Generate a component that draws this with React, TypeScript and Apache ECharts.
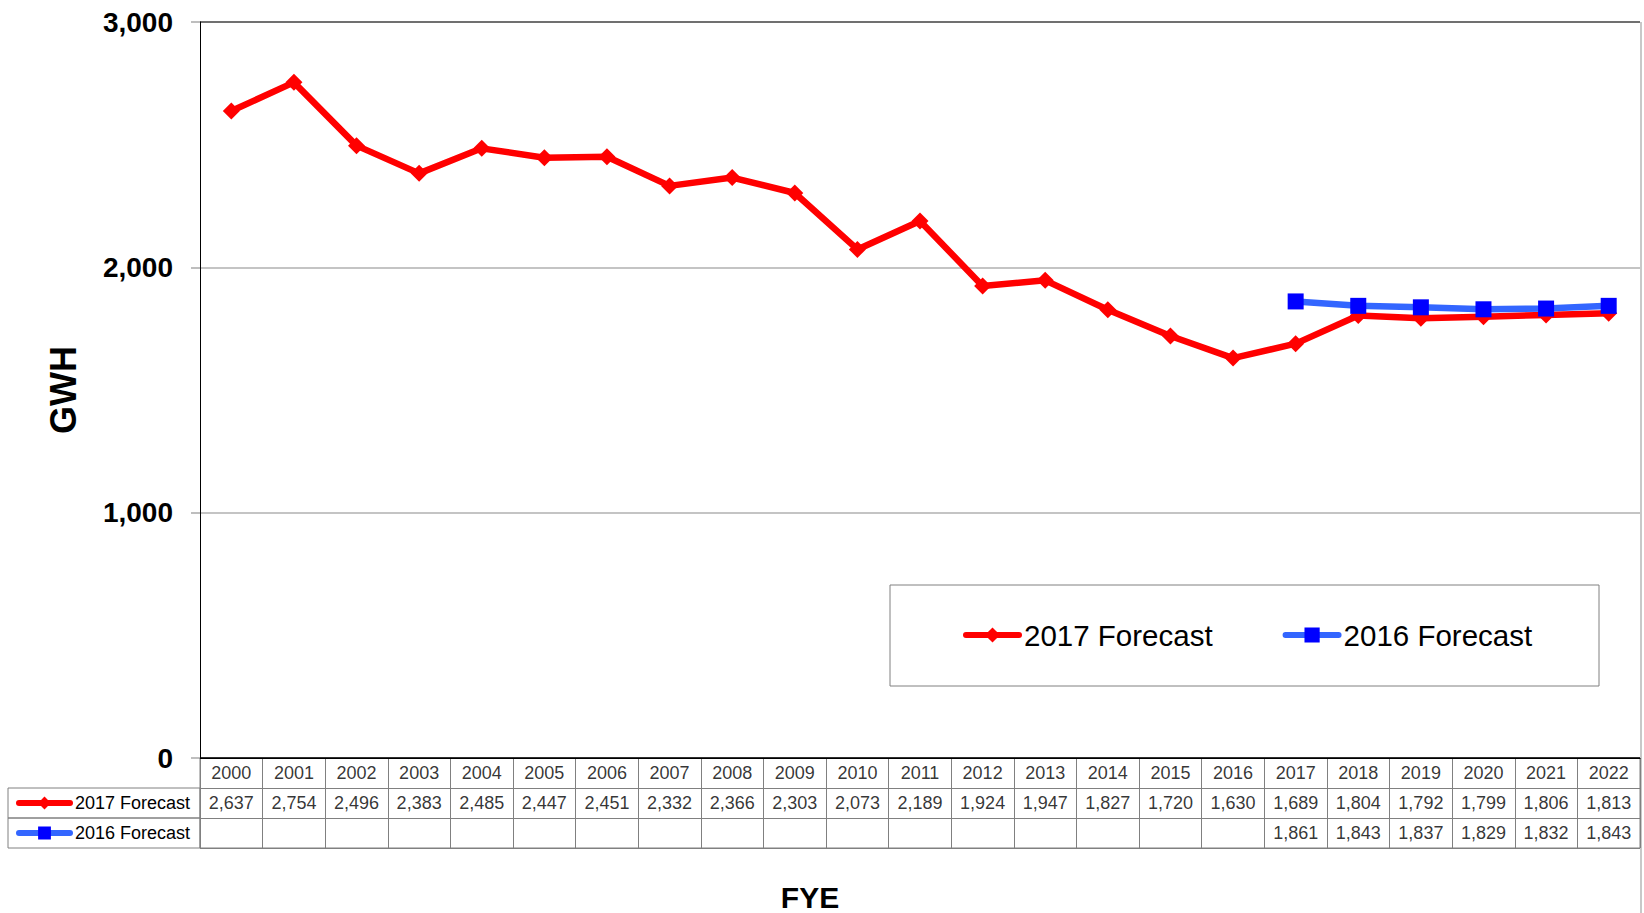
import React, { useEffect, useRef } from "react";
import * as echarts from "echarts";

const years = ["2000","2001","2002","2003","2004","2005","2006","2007","2008","2009","2010","2011","2012","2013","2014","2015","2016","2017","2018","2019","2020","2021","2022"];
const forecast2017 = [2637,2754,2496,2383,2485,2447,2451,2332,2366,2303,2073,2189,1924,1947,1827,1720,1630,1689,1804,1792,1799,1806,1813];
const forecast2016: (number | null)[] = [null,null,null,null,null,null,null,null,null,null,null,null,null,null,null,null,null,1861,1843,1837,1829,1832,1843];
const seriesNames = ["2017 Forecast", "2016 Forecast"];
const tableRows = ["FYE", "2017 Forecast", "2016 Forecast"];
const yTicks = { min: 0, max: 3000, interval: 1000 };

const FONT = 'Arial, "Liberation Sans", sans-serif';
const fmt = (v: number) => v.toLocaleString("en-US");

export default function App() {
  const ref = useRef<HTMLDivElement>(null);
  useEffect(() => {
    if (!ref.current) return;
    const chart = echarts.init(ref.current, undefined, { renderer: "svg" });

    const tableData: any[] = [];
    years.forEach((y, i) => {
      tableData.push({ value: [i, 0], name: y });
      tableData.push({ value: [i, 1], name: fmt(forecast2017[i]) });
      const b = forecast2016[i];
      if (b != null) tableData.push({ value: [i, 2], name: fmt(b) });
    });

    chart.setOption({
      animation: false,
      textStyle: { fontFamily: FONT },
      grid: [
        { left: 200, right: 4, top: 22, bottom: 155, show: false },
        { left: 200, right: 4, top: 758, height: 90, show: true, borderColor: "#808080", borderWidth: 1 },
      ],
      legend: [
        {
          data: seriesNames,
          left: 963,
          top: 620,
          padding: 0,
          itemWidth: 53,
          itemHeight: 19,
          itemGap: 70,
          lineStyle: { width: 6, cap: "round" },
          textStyle: { fontSize: 29.5, color: "#000", fontFamily: FONT },
          selectedMode: false,
        },
        {
          data: seriesNames,
          orient: "vertical",
          left: 16,
          top: 794,
          padding: 0,
          itemWidth: 51,
          itemHeight: 16,
          itemGap: 12,
          lineStyle: { width: 6, cap: "round" },
          textStyle: { fontSize: 18, color: "#000", fontFamily: FONT },
          selectedMode: false,
        },
      ],
      xAxis: [
        {
          type: "category",
          gridIndex: 0,
          data: years,
          boundaryGap: true,
          axisLine: { show: true, lineStyle: { color: "#000", width: 1 } },
          axisTick: { show: false },
          axisLabel: { show: false },
          splitLine: { show: false },
        },
        {
          type: "category",
          gridIndex: 1,
          data: years,
          boundaryGap: true,
          axisLine: { show: false },
          axisTick: { show: false },
          axisLabel: { show: false },
          splitLine: { show: true, interval: 0, lineStyle: { color: "#808080", width: 1 } },
        },
      ],
      yAxis: [
        {
          type: "value",
          gridIndex: 0,
          min: yTicks.min,
          max: yTicks.max,
          interval: yTicks.interval,
          name: "GWH",
          nameLocation: "middle",
          nameRotate: 90,
          nameGap: 119,
          nameTextStyle: { fontSize: 36, fontWeight: "bold", color: "#000", fontFamily: FONT },
          axisLine: { show: true, lineStyle: { color: "#000", width: 1 } },
          axisTick: { show: true, length: 9, lineStyle: { color: "#a8a8a8", width: 1.5 } },
          axisLabel: {
            fontSize: 28,
            fontWeight: "bold",
            color: "#000",
            margin: 27,
            fontFamily: FONT,
            formatter: (v: number) => fmt(v),
          },
          splitLine: { show: true, lineStyle: { color: ["#000", "#b0b0b0", "#b0b0b0", "#404040"], width: 1.5 } },
        },
        {
          type: "category",
          gridIndex: 1,
          data: tableRows,
          inverse: true,
          axisLine: { show: false },
          axisTick: { show: false },
          axisLabel: { show: false },
          splitLine: { show: true, interval: 0, lineStyle: { color: "#808080", width: 1 } },
        },
      ],
      series: [
        {
          name: seriesNames[0],
          type: "line",
          xAxisIndex: 0,
          yAxisIndex: 0,
          data: forecast2017,
          symbol: "diamond",
          symbolSize: 17,
          itemStyle: { color: "#ff0000" },
          lineStyle: { color: "#ff0000", width: 6.5, cap: "round" },
          z: 3,
        },
        {
          name: seriesNames[1],
          type: "line",
          xAxisIndex: 0,
          yAxisIndex: 0,
          data: forecast2016,
          symbol: "rect",
          symbolSize: 16,
          itemStyle: { color: "#0000ff" },
          lineStyle: { color: "#3366ff", width: 6.5, cap: "round" },
          z: 4,
        },
        {
          name: "table",
          type: "scatter",
          xAxisIndex: 1,
          yAxisIndex: 1,
          data: tableData,
          symbolSize: 2,
          itemStyle: { color: "rgba(0,0,0,0)" },
          silent: true,
          label: {
            show: true,
            position: "inside",
            formatter: "{b}",
            fontSize: 18,
            color: "#000",
            fontFamily: FONT,
          },
        },
      ],
      graphic: [
        { type: "rect", shape: { x: 890, y: 585, width: 709, height: 101 }, style: { fill: "none", stroke: "#808080", lineWidth: 1 }, z: 0 },
        { type: "rect", shape: { x: 8, y: 788, width: 192, height: 30 }, style: { fill: "none", stroke: "#808080", lineWidth: 1 } },
        { type: "rect", shape: { x: 8, y: 818, width: 192, height: 30 }, style: { fill: "none", stroke: "#808080", lineWidth: 1 } },
        { type: "line", shape: { x1: 1641, y1: 22, x2: 1641, y2: 913 }, style: { stroke: "#c8c8c8", lineWidth: 2 } },
        {
          type: "text",
          x: 810,
          y: 897,
          style: { text: "FYE", fontSize: 30, fontWeight: "bold", fill: "#000", font: `bold 30px ${FONT}`, textAlign: "center", textVerticalAlign: "middle" },
        },
      ],
    });
    return () => chart.dispose();
  }, []);
  return <div ref={ref} style={{ position: "absolute", left: 0, top: 0, width: 1644, height: 913 }} />;
}
